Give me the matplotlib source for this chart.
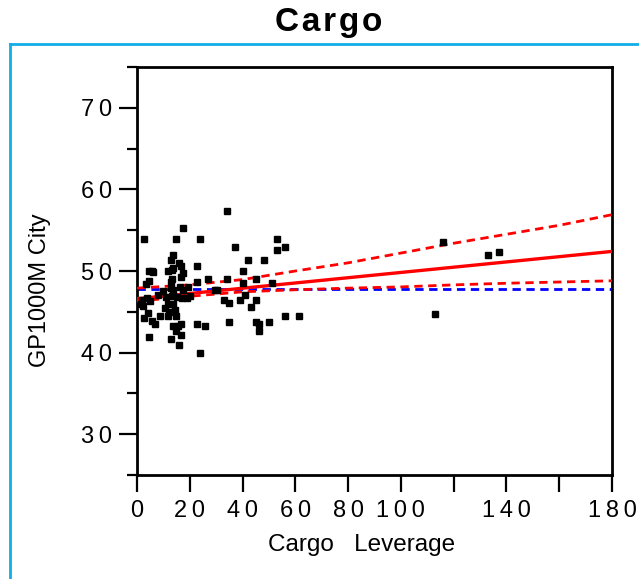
import matplotlib
matplotlib.use("Agg")
import matplotlib.pyplot as plt
from matplotlib.lines import Line2D
from matplotlib.ticker import FixedLocator, FixedFormatter

plt.rcParams['font.family'] = ['Liberation Sans', 'DejaVu Sans']

# ---- data ----
cargo_leverage = [34.0, 17.5, 2.7, 14.8, 23.9, 52.9, 52.9, 56.1, 37.1, 13.5, 12.8, 15.9, 16.5, 22.7,
                  42.0, 48.1, 13.6, 4.5, 5.6, 11.6, 13.1, 17.5, 16.5, 13.1, 12.7, 4.5, 3.4, 26.8,
                  34.0, 40.0, 45.0, 51.0, 40.3, 10.0, 13.8, 16.3, 17.5, 30.4, 3.7, 4.9, 11.0, 13.2,
                  16.9, 18.8, 2.4, 1.5, 33.0, 34.9, 39.0, 40.9, 45.1, 43.1, 10.6, 13.8, 14.4, 12.0,
                  14.8, 11.6, 8.7, 4.2, 2.7, 5.6, 6.8, 13.8, 15.6, 16.7, 22.6, 25.8, 14.8, 16.7,
                  12.9, 4.5, 15.9, 23.9, 34.9, 45.1, 46.2, 50.0, 46.2, 56.1, 61.4, 115.8, 132.9,
                  137.2, 112.9, 12.7, 19.4, 1.9, 11.9, 22.6, 15.0, 29.6, 8.0, 20.0, 6.0]
gp1000m_city = [57.4, 55.3, 53.9, 53.9, 53.9, 53.9, 52.6, 53.0, 53.0, 52.0, 51.3, 51.0, 50.6, 50.6,
                51.3, 51.3, 50.4, 50.0, 50.0, 50.0, 50.1, 49.7, 49.3, 49.0, 48.6, 48.8, 48.4, 49.0,
                49.0, 50.0, 49.0, 48.5, 48.5, 47.5, 47.7, 48.0, 47.7, 47.7, 46.7, 46.3, 46.8, 46.9,
                46.7, 46.7, 45.7, 45.9, 46.5, 46.1, 46.5, 47.1, 46.5, 45.6, 45.5, 45.9, 45.2, 45.0,
                44.5, 44.5, 44.5, 44.8, 44.2, 43.9, 43.5, 43.2, 43.2, 43.5, 43.5, 43.2, 42.6, 42.2,
                41.7, 41.9, 40.9, 39.9, 43.8, 43.8, 43.5, 43.8, 42.6, 44.5, 44.5, 53.6, 52.0,
                52.35, 44.75, 47.9, 48.0, 46.5, 45.9, 48.7, 46.8, 47.7, 47.0, 46.9, 49.9]

fit_x = [0, 180]
fit_y = [46.6, 52.4]
band_x = [0, 20, 40, 60, 80, 100, 120, 140, 160, 180]
band_upper = [47.9, 48.3, 48.95, 50.0, 51.0, 52.2, 53.4, 54.5, 55.6, 56.9]
band_lower = [46.3, 46.9, 47.45, 47.7, 47.9, 48.05, 48.3, 48.5, 48.65, 48.8]
mean_y = 47.75

x_ticks = [0, 20, 40, 60, 80, 100, 120, 140, 160, 180]
x_ticklabels = ["0", "20", "40", "60", "80", "100", "", "140", "", "180"]
y_major = [30, 40, 50, 60, 70]
y_minor = [25, 35, 45, 55, 65, 75]

title = "Cargo"
xlabel = "Cargo   Leverage"
ylabel = "GP1000M City"

def spaced(s, sep="\u2009"):
    return sep.join(list(s))

W, H = 639, 579
fig = plt.figure(figsize=(W / 100, H / 100), dpi=100)
ax = fig.add_axes([137 / W, 1 - 475 / H, (612 - 137) / W, (475 - 67) / H])

ax.plot(band_x, band_upper, color='#ff0000', lw=2.0, ls=(0, (3, 2)), zorder=3)
ax.plot(band_x, band_lower, color='#ff0000', lw=2.0, ls=(0, (3, 2)), zorder=3)
ax.axhline(mean_y, color='#0000ff', lw=2.0, ls=(0, (3, 2)), zorder=2)
ax.plot(fit_x, fit_y, color='#ff0000', lw=2.4, zorder=4)
ax.plot(cargo_leverage, gp1000m_city, 's', color='black', ms=4.6, mec='black', zorder=5)

ax.set_xlim(0, 180)
ax.set_ylim(25, 75)

ax.xaxis.set_major_locator(FixedLocator(x_ticks))
ax.xaxis.set_major_formatter(FixedFormatter([spaced(t) for t in x_ticklabels]))
ax.yaxis.set_major_locator(FixedLocator(y_major))
ax.yaxis.set_major_formatter(FixedFormatter([spaced(str(v)) for v in y_major]))
ax.yaxis.set_minor_locator(FixedLocator(y_minor))

ax.tick_params(axis='x', direction='out', length=12, width=1.6, labelsize=17, pad=6)
ax.tick_params(axis='y', which='major', direction='out', length=13, width=1.6, labelsize=17, pad=5)
ax.tick_params(axis='y', which='minor', direction='out', length=7, width=1.6)
for s in ax.spines.values():
    s.set_linewidth(2.0)

ax.set_xlabel(xlabel, fontsize=17.5)
ax.xaxis.set_label_coords((362 - 137) / 475, -(545 - 475) / 408, transform=ax.transAxes)
ax.xaxis.label.set_va('center')
ax.set_ylabel(ylabel, fontsize=17)
ax.yaxis.set_label_coords(-(137 - 40) / 475, (475 - 290) / 408, transform=ax.transAxes)
ax.yaxis.label.set_va('center')

fig.text(0.5 + 9 / W, 1 - 22 / H, spaced(title, "\u200a"), ha='center', va='center',
         fontsize=24, fontweight='bold')

cyan = '#12aee8'
fig.add_artist(Line2D([10 / W, 1.0], [1 - 44 / H, 1 - 44 / H], color=cyan, lw=2.0, transform=fig.transFigure))
fig.add_artist(Line2D([10 / W, 10 / W], [1 - 44 / H, 0.0], color=cyan, lw=2.0, transform=fig.transFigure))

fig.savefig("out.png", dpi=100)
